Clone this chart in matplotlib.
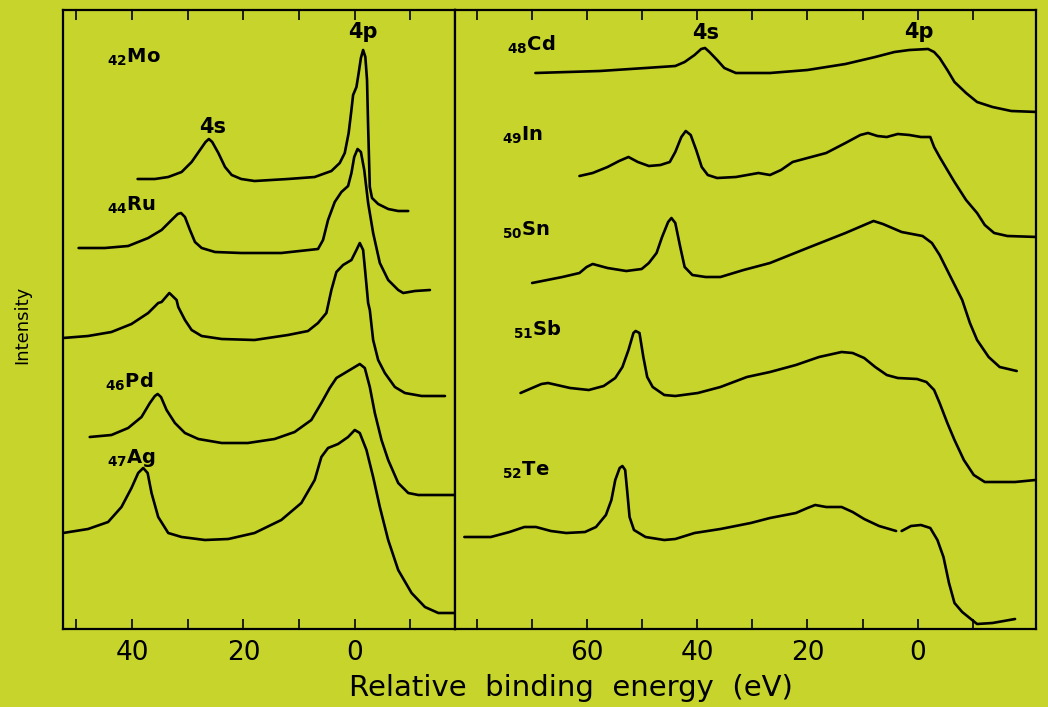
import numpy as np
import matplotlib
matplotlib.use("Agg")
import matplotlib.pyplot as plt

# spectra: binding energy (eV) and intensity (arb. units, offset)
mo_e = [39.0, 35.9, 33.5, 31.1, 29.3, 27.8, 26.8, 26.2, 25.6, 24.5, 23.3, 22.1, 20.4, 18.0, 12.0, 7.2, 4.2, 2.7, 1.8, 1.1,
        0.6, 0.3, -0.3, -0.7, -1.1, -1.5, -1.9, -2.2, -2.4, -2.7, -3.1, -4.2, -6.0, -7.8, -9.6]
mo_i = [45.0, 45.0, 45.2, 45.7, 46.7, 47.9, 48.7, 49.0, 48.7, 47.6, 46.2, 45.4, 45.0, 44.8, 45.0, 45.2, 45.8, 46.6, 47.6, 49.6,
        51.9, 53.4, 54.2, 55.6, 57.1, 57.9, 57.2, 54.9, 50.2, 44.2, 43.1, 42.5, 42.0, 41.8, 41.8]

ru_e = [49.6, 44.9, 40.7, 37.1, 34.7, 32.9, 31.8, 31.2, 30.5, 29.6, 28.7, 27.5, 25.1, 20.4, 13.2, 6.6, 5.7, 4.8, 3.6, 2.4,
        1.2, 0.6, 0.1, -0.5, -1.1, -1.7, -2.4, -3.3, -4.5, -6.0, -7.8, -8.7, -10.8, -13.5]
ru_i = [38.1, 38.1, 38.3, 39.1, 39.9, 40.9, 41.5, 41.6, 41.2, 39.9, 38.7, 38.1, 37.7, 37.6, 37.6, 38.0, 38.9, 40.9, 42.7, 43.7,
        44.3, 45.6, 47.2, 48.0, 47.7, 45.9, 42.6, 39.6, 36.6, 34.9, 33.9, 33.6, 33.8, 33.9]

rh_e = [52.4, 47.9, 43.7, 40.1, 37.1, 35.3, 34.7, 33.3, 32.0, 31.7, 30.5, 29.3, 27.5, 23.9, 18.0, 12.0, 8.4, 6.6, 5.1, 4.2,
        3.3, 2.1, 0.6, -0.3, -0.9, -1.5, -1.9, -2.4, -2.7, -3.3, -4.2, -5.4, -7.2, -9.0, -12.0, -16.2]
rh_i = [29.1, 29.3, 29.7, 30.5, 31.6, 32.6, 32.7, 33.6, 32.9, 32.2, 30.9, 29.9, 29.3, 29.0, 28.9, 29.4, 29.8, 30.6, 31.6, 33.9,
        35.7, 36.4, 36.9, 37.9, 38.6, 37.9, 35.6, 32.6, 31.9, 28.9, 26.9, 25.6, 24.2, 23.6, 23.3, 23.3]

pd_e = [47.6, 43.7, 40.7, 38.3, 36.8, 35.9, 35.4, 34.8, 33.8, 32.3, 30.5, 28.1, 23.9, 19.2, 14.4, 10.8, 7.8, 6.0, 4.5, 3.3,
        1.8, 0.3, -0.9, -1.8, -2.7, -3.6, -4.8, -6.0, -7.8, -9.6, -11.4, -18.0]
pd_i = [19.2, 19.4, 20.1, 21.2, 22.6, 23.3, 23.5, 23.2, 21.9, 20.6, 19.6, 19.0, 18.6, 18.6, 19.0, 19.7, 20.9, 22.6, 24.1, 25.1,
        25.6, 26.1, 26.5, 26.1, 24.2, 21.6, 18.9, 16.9, 14.6, 13.6, 13.4, 13.4]

ag_e = [52.4, 47.9, 44.3, 41.9, 40.1, 38.9, 38.0, 37.2, 36.5, 35.3, 33.5, 31.1, 26.9, 22.7, 18.0, 13.2, 9.6, 7.2, 6.0, 4.8,
        3.0, 1.2, 0.0, -0.9, -2.1, -3.3, -4.5, -6.0, -7.8, -10.2, -12.6, -15.0, -18.0]
ag_i = [9.6, 10.0, 10.7, 12.2, 14.1, 15.6, 16.1, 15.6, 13.6, 11.2, 9.6, 9.2, 8.9, 9.0, 9.6, 10.9, 12.6, 14.9, 17.2, 18.1,
        18.5, 19.2, 19.9, 19.6, 17.9, 15.2, 12.2, 8.9, 5.9, 3.6, 2.2, 1.6, 1.6]

cd_e = [69.4, 57.7, 49.4, 44.0, 42.3, 40.5, 39.3, 38.6, 37.8, 36.4, 35.1, 33.0, 26.8, 20.0, 13.1, 7.7, 4.2, 1.5, -1.9, -3.0,
        -4.0, -5.4, -6.7, -8.8, -10.8, -13.6, -17.0, -21.8]
cd_i = [55.6, 55.8, 56.1, 56.3, 56.7, 57.4, 58.0, 58.1, 57.7, 56.9, 56.1, 55.6, 55.6, 55.9, 56.5, 57.2, 57.7, 57.9, 58.0, 57.7,
        57.1, 55.9, 54.7, 53.6, 52.7, 52.2, 51.8, 51.7]

in_e = [61.4, 59.0, 56.3, 54.2, 52.5, 50.8, 48.8, 46.7, 45.0, 44.0, 42.9, 42.1, 41.2, 40.2, 39.2, 38.1, 36.4, 33.0, 28.9, 26.8,
        24.8, 22.7, 20.0, 16.6, 13.1, 10.4, 9.0, 7.3, 5.6, 3.6, 1.5, -0.6, -2.3, -3.0, -4.0, -5.4, -6.7, -8.8, -10.8, -12.2,
        -13.9, -16.3, -21.8]
in_i = [45.3, 45.6, 46.2, 46.8, 47.2, 46.7, 46.3, 46.4, 46.7, 47.7, 49.2, 49.8, 49.4, 47.9, 46.2, 45.4, 45.1, 45.2, 45.6, 45.4,
        45.9, 46.7, 47.1, 47.6, 48.6, 49.4, 49.6, 49.3, 49.2, 49.5, 49.4, 49.2, 49.2, 48.2, 47.2, 45.9, 44.7, 42.9, 41.6, 40.4,
        39.6, 39.3, 39.2]

sn_e = [70.0, 64.5, 61.4, 60.1, 59.0, 56.3, 52.9, 50.1, 48.8, 47.4, 46.4, 45.3, 44.7, 44.0, 43.1, 42.3, 40.9, 38.5, 35.8, 31.6,
        26.8, 20.0, 13.1, 9.7, 8.0, 6.3, 2.9, -0.9, -2.6, -4.0, -6.0, -8.1, -9.5, -10.8, -12.9, -14.9, -18.0]
sn_i = [34.6, 35.2, 35.6, 36.2, 36.5, 36.1, 35.8, 36.0, 36.6, 37.6, 39.2, 40.7, 41.1, 40.6, 38.2, 36.2, 35.4, 35.2, 35.2, 35.9,
        36.6, 38.1, 39.6, 40.4, 40.8, 40.5, 39.7, 39.3, 38.6, 37.4, 35.2, 32.9, 30.6, 28.9, 27.2, 26.2, 25.8]

sb_e = [72.1, 70.0, 68.3, 67.1, 65.5, 63.1, 59.7, 57.0, 54.9, 53.6, 52.5, 51.6, 51.2, 50.5, 49.8, 49.1, 48.1, 46.0, 44.0, 39.9,
        35.8, 31.0, 26.8, 22.1, 17.9, 13.8, 11.8, 9.7, 7.7, 5.6, 3.6, 0.1, -1.6, -3.0, -4.0, -5.4, -6.7, -8.4, -10.2, -12.2,
        -17.7, -21.4]
sb_i = [23.6, 24.1, 24.5, 24.6, 24.4, 24.1, 23.9, 24.3, 25.1, 26.2, 27.9, 29.6, 29.8, 29.6, 27.2, 25.2, 24.2, 23.4, 23.3, 23.6,
        24.2, 25.2, 25.7, 26.4, 27.2, 27.7, 27.6, 27.1, 26.2, 25.4, 25.1, 25.0, 24.7, 23.9, 22.6, 20.6, 18.9, 16.9, 15.4, 14.7,
        14.7, 14.9]

te_e = [82.3, 77.5, 74.1, 71.4, 69.3, 66.6, 63.8, 60.4, 58.4, 56.6, 55.6, 54.9, 54.1, 53.6, 53.1, 52.7, 52.3, 51.5, 49.4, 46.0,
        44.0, 40.5, 35.8, 30.3, 26.8, 22.1, 20.0, 18.6, 16.6, 13.8, 11.8, 9.7, 7.0, 3.9, 3.4, 2.9, 1.2, -0.6, -2.3, -3.6,
        -4.7, -5.7, -6.7, -8.1, -10.8, -13.6, -17.7]
te_i = [9.2, 9.2, 9.7, 10.2, 10.2, 9.8, 9.6, 9.7, 10.2, 11.4, 12.9, 14.9, 16.1, 16.3, 15.9, 13.6, 11.2, 9.9, 9.2, 8.9,
        9.0, 9.6, 10.0, 10.6, 11.1, 11.6, 12.1, 12.4, 12.2, 12.2, 11.7, 11.0, 10.3, 9.8, np.nan, 9.8, 10.3, 10.4, 10.1, 8.9,
        7.2, 4.6, 2.6, 1.7, 0.5, 0.6, 1.0]

left_names = [r"$_{\mathbf{42}}$Mo", r"$_{\mathbf{44}}$Ru", r"$_{\mathbf{46}}$Pd", r"$_{\mathbf{47}}$Ag"]
left_pos = [(44.5, 57.2), (44.5, 42.4), (44.9, 24.7), (44.5, 17.1)]
right_names = [r"$_{\mathbf{48}}$Cd", r"$_{\mathbf{49}}$In", r"$_{\mathbf{50}}$Sn", r"$_{\mathbf{51}}$Sb", r"$_{\mathbf{52}}$Te"]
right_pos = [(74.6, 58.4), (75.5, 49.4), (75.5, 39.9), (73.4, 29.9), (75.5, 15.9)]

bg = "#c6d42c"
fig = plt.figure(figsize=(10.48, 7.07), dpi=100, facecolor=bg)
ax1 = fig.add_axes([63/1048, 78/707, 392/1048, 619/707])
ax2 = fig.add_axes([455/1048, 78/707, 581/1048, 619/707])

for ax in (ax1, ax2):
    ax.set_facecolor(bg)
    ax.set_ylim(0, 61.9)
    ax.set_yticks([])
    for s in ax.spines.values():
        s.set_linewidth(1.6)
    ax.tick_params(axis="x", which="both", direction="in", top=True, bottom=True,
                   length=7, width=1.2, labelsize=19, pad=8)

lw = 1.9
for e, i in [(mo_e, mo_i), (ru_e, ru_i), (rh_e, rh_i), (pd_e, pd_i), (ag_e, ag_i)]:
    ax1.plot(e, i, color="black", lw=lw, solid_joinstyle="round", solid_capstyle="round")
for e, i in [(cd_e, cd_i), (in_e, in_i), (sn_e, sn_i), (sb_e, sb_i), (te_e, te_i)]:
    ax2.plot(e, i, color="black", lw=lw, solid_joinstyle="round", solid_capstyle="round")

ax1.set_xlim(52.4, -18.0)
ax1.set_xticks(np.arange(50, -20, -10))
ax1.set_xticklabels(["", "40", "", "20", "", "0", ""])
ax2.set_xlim(84.0, -21.5)
ax2.set_xticks(np.arange(80, -20, -10))
ax2.set_xticklabels(["", "", "60", "", "40", "", "20", "", "0", ""])

for name, (x, y) in zip(left_names, left_pos):
    ax1.text(x, y, name, fontsize=14, fontweight="bold", ha="left", va="center")
for name, (x, y) in zip(right_names, right_pos):
    ax2.text(x, y, name, fontsize=14, fontweight="bold", ha="left", va="center")

ax1.text(25.5, 50.2, "4s", fontsize=15, fontweight="bold", ha="center", va="center")
ax1.text(-1.4, 59.7, "4p", fontsize=15, fontweight="bold", ha="center", va="center")
ax2.text(38.4, 59.6, "4s", fontsize=15, fontweight="bold", ha="center", va="center")
ax2.text(-0.3, 59.7, "4p", fontsize=15, fontweight="bold", ha="center", va="center")

fig.text(22/1048, 1 - 325/707, "Intensity", rotation=90, fontsize=13,
         ha="center", va="center")
fig.text(571/1048, 1 - 688/707, "Relative  binding  energy  (eV)", fontsize=21,
         ha="center", va="center")

fig.savefig("out.png", dpi=100, facecolor=bg)
